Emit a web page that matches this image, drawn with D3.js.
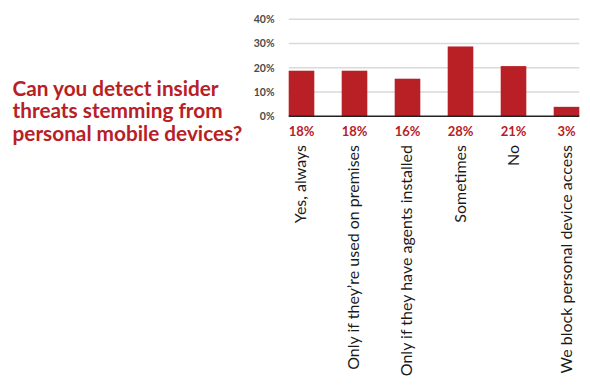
<!DOCTYPE html>
<html><head><meta charset="utf-8">
<script src="https://cdn.jsdelivr.net/npm/d3@7"></script>
<style>
html,body{margin:0;padding:0;background:#fff;}
svg{display:block;}
</style></head>
<body>
<svg id="chart" width="590" height="388"></svg>
<script>
const titleLines = ["Can you detect insider", "threats stemming from", "personal mobile devices?"];
const categories = ["Yes, always", "Only if they\u2019re used on premises", "Only if they have agents installed", "Sometimes", "No", "We block personal device access"];
const values = [18.8, 18.8, 15.5, 28.8, 20.7, 3.9];
const valueLabels = ["18%", "18%", "16%", "28%", "21%", "3%"];
const yTicks = [0, 10, 20, 30, 40];

const red = "#b82025";
const svg = d3.select("#chart");

const x = d3.scaleBand().domain(categories).range([288.7, 579.3]).paddingInner(0.517).paddingOuter(0);
const y = d3.scaleLinear().domain([0, 40]).range([116.3, 19.3]);

// title
const title = svg.append("text")
  .attr("x", 12.5).attr("y", 95.5)
  .attr("fill", red)
  .style("font-family", "Lato, 'Open Sans', sans-serif")
  .style("font-weight", 700)
  .style("font-size", "19.5px");
title.selectAll("tspan").data(titleLines).join("tspan")
  .attr("x", 12.5).attr("dy", (d, i) => i === 0 ? 0 : 22.6)
  .text(d => d);
// fit title width (~230px for longest line)
{
  const w = d3.max(title.selectAll("tspan").nodes(), n => n.getComputedTextLength());
  title.style("font-size", (19.5 * 230 / w) + "px");
}

// gridlines
svg.append("g").selectAll("line").data(yTicks.filter(d => d > 0)).join("line")
  .attr("x1", 288.7).attr("x2", 579.3)
  .attr("y1", d => y(d)).attr("y2", d => y(d))
  .attr("stroke", "#d9d9d9").attr("stroke-width", 1.5);

// y axis labels
const yAxis = d3.axisLeft(y).tickValues(yTicks).tickFormat(d => d + "%").tickSize(0).tickPadding(0);
const yg = svg.append("g").attr("transform", "translate(274.5,0)").call(yAxis);
yg.select(".domain").remove();
yg.selectAll("text")
  .attr("fill", "#4a4a4a")
  .style("font-family", "Lato, 'Open Sans', sans-serif")
  .style("font-weight", 700)
  .style("font-size", "10.5px");

// bars
svg.append("g").selectAll("rect").data(values).join("rect")
  .attr("x", (d, i) => x(categories[i]))
  .attr("width", x.bandwidth())
  .attr("y", d => y(d))
  .attr("height", d => y(0) - y(d))
  .attr("fill", red);

// baseline
svg.append("line")
  .attr("x1", 288.7).attr("x2", 579.3)
  .attr("y1", y(0)).attr("y2", y(0))
  .attr("stroke", "#222").attr("stroke-width", 1.5);

// value labels
svg.append("g").selectAll("text").data(valueLabels).join("text")
  .attr("x", (d, i) => x(categories[i]) + x.bandwidth() / 2)
  .attr("y", 135.5)
  .attr("text-anchor", "middle")
  .attr("fill", red)
  .style("font-family", "Lato, 'Open Sans', sans-serif")
  .style("font-weight", 700)
  .style("font-size", "13px")
  .text(d => d);

// category labels (rotated)
const cats = svg.append("g").selectAll("text").data(categories).join("text")
  .attr("transform", d => `translate(${x(d) + x.bandwidth() / 2 + 5},145) rotate(-90)`)
  .attr("text-anchor", "end")
  .attr("fill", "#1a1a1a")
  .style("font-family", "Lato, 'Open Sans', sans-serif")
  .style("font-weight", 400)
  .style("font-size", "15px")
  .text(d => d);
{
  const w = cats.nodes()[1].getComputedTextLength();
  cats.style("font-size", (15 * 225 / w) + "px");
}
</script>
</body></html>
